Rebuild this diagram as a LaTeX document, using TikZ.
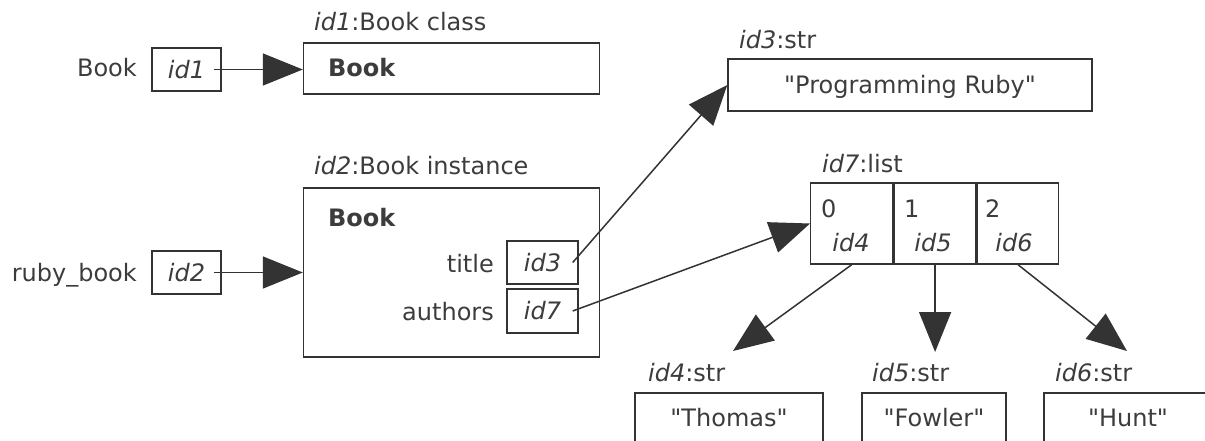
\documentclass[tikz,border=0pt]{standalone}
\usepackage{fontspec}
\setmainfont{DejaVu Sans}[Ligatures=TeXOff]
\usetikzlibrary{arrows.meta}
\definecolor{ink}{HTML}{3C3C3C}
\definecolor{edge}{HTML}{333333}
\tikzset{
  txt/.style={font=\fontsize{24}{29}\selectfont, text=ink, inner sep=0pt},
  bold/.style={font=\fontsize{24}{29}\selectfont\bfseries},
  lbl/.style={txt, anchor=base west},
  lblr/.style={txt, anchor=base east},
  box/.style={txt, draw=edge, line width=1.4pt, text height=17.5pt, text depth=0pt},
  arr/.style={draw=edge, line width=1.5pt, -{Triangle[length=40pt,width=32pt]}},
}
\begin{document}
\begin{tikzpicture}[x=1pt,y=-1pt]
\useasboundingbox (0,0) rectangle (1205,441);
\clip (0,0) rectangle (1205,441);

% Book class
\node[box, minimum width=296pt, minimum height=51pt] (cls) at (451.5,68.5) {};
\node[lbl, bold] (clsname) at (328,77) {Book};
\node[lbl] (clslbl) at (314,31) {\textit{id1}:Book class};
\node[box, minimum width=69pt, minimum height=43pt] (id1) at (186.5,69.5) {\textit{id1}};
\node[lblr] (bookvar) at (137,77) {Book};
\draw[arr] ([xshift=-8pt]id1.east) -- (id1.east -| cls.west);

% Book instance
\node[box, minimum width=296pt, minimum height=169pt] (inst) at (451.5,272.5) {};
\node[lbl] (instlbl) at (314,175) {\textit{id2}:Book instance};
\node[lbl, bold] (instname) at (328,226) {Book};
\node[box, minimum width=71pt, minimum height=43pt] (id3) at (542.5,262.5) {\textit{id3}};
\node[box, minimum width=71pt, minimum height=44pt] (id7) at (542.5,311) {\textit{id7}};
\node[lblr] (title) at (494,272) {title};
\node[lblr] (authors) at (494,320) {authors};
\node[box, minimum width=69pt, minimum height=43pt] (id2) at (186.5,272.5) {\textit{id2}};
\node[lblr] (rubybook) at (137,281) {ruby\_book};
\draw[arr] ([xshift=-8pt]id2.east) -- (id2.east -| inst.west);

% title string
\node[lbl] (strlbl3) at (739,49) {\textit{id3}:str};
\node[box, minimum width=364pt, minimum height=52pt] (pr) at (910,85) {"Programming Ruby"};
\draw[arr] ([xshift=-6pt]id3.east) -- (pr.west);

% list
\node[lbl] (listlbl) at (822,172) {\textit{id7}:list};
\node[box, minimum width=82pt, minimum height=81pt, anchor=west] (c0) at (810,223.5) {};
\node[box, minimum width=82pt, minimum height=81pt, anchor=west] (c1) at (c0.east) {};
\node[box, minimum width=81pt, minimum height=81pt, anchor=west] (c2) at (c1.east) {};
\node[lbl] (i0) at (821,217) {0};
\node[lbl] (i1) at (904,217) {1};
\node[lbl] (i2) at (985,217) {2};
\node[txt, anchor=base] (v0) at (851,251) {\textit{id4}};
\node[txt, anchor=base] (v1) at (933,251) {\textit{id5}};
\node[txt, anchor=base] (v2) at (1014,251) {\textit{id6}};
\draw[arr] ([xshift=-6pt]id7.east) -- (c0.west);

% author strings
\coordinate (t4) at (733,351);
\coordinate (t5) at (933,352);
\coordinate (t6) at (1127,351);
\draw[arr] (c0.south) -- (t4);
\draw[arr] (c1.south) -- (c1.south |- t5);
\draw[arr] (c2.south) -- (t6);
\node[lbl] (l4) at (648,381) {\textit{id4}:str};
\node[lbl] (l5) at (872,381) {\textit{id5}:str};
\node[lbl] (l6) at (1055,381) {\textit{id6}:str};
\node[box, minimum width=188pt, minimum height=50pt] (s4) at (729,418) {"Thomas"};
\node[box, minimum width=144pt, minimum height=50pt] (s5) at (934,418) {"Fowler"};
\node[box, minimum width=168pt, minimum height=50pt] (s6) at (1128,418) {"Hunt"};
\end{tikzpicture}
\end{document}
